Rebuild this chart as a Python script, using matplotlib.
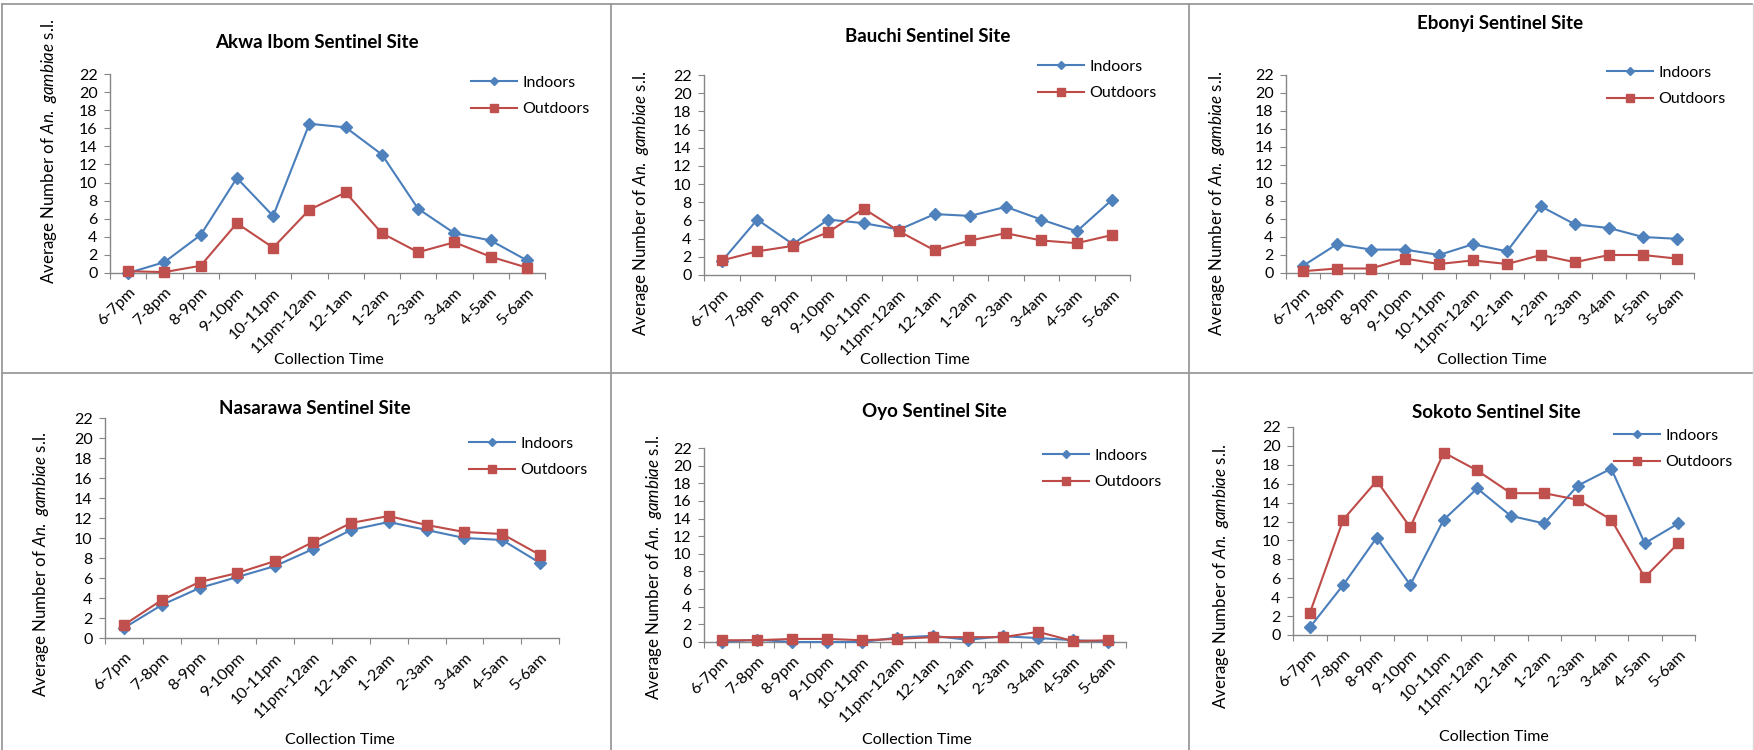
"""Hourly biting profile of An. gambiae s.l. at six sentinel sites."""
import matplotlib
matplotlib.use("Agg")
import matplotlib.pyplot as plt
import numpy as np
from matplotlib.lines import Line2D

plt.rcParams["font.family"] = ["Lato", "DejaVu Sans"]
plt.rcParams["mathtext.fontset"] = "custom"
plt.rcParams["mathtext.rm"] = "Lato"
plt.rcParams["mathtext.it"] = "Lato:italic"

times = ["6-7pm", "7-8pm", "8-9pm", "9-10pm", "10-11pm", "11pm-12am",
         "12-1am", "1-2am", "2-3am", "3-4am", "4-5am", "5-6am"]

akwa_ibom_in = [0.0, 1.2, 4.2, 10.5, 6.3, 16.5, 16.1, 13.1, 7.1, 4.4, 3.6, 1.4]
akwa_ibom_out = [0.2, 0.1, 0.8, 5.5, 2.8, 7.0, 8.9, 4.4, 2.3, 3.4, 1.8, 0.6]
bauchi_in = [1.5, 6.1, 3.4, 6.1, 5.7, 5.0, 6.7, 6.5, 7.5, 6.1, 4.8, 8.3]
bauchi_out = [1.6, 2.6, 3.2, 4.7, 7.3, 4.8, 2.7, 3.8, 4.6, 3.8, 3.5, 4.4]
ebonyi_in = [0.8, 3.2, 2.6, 2.6, 2.0, 3.2, 2.4, 7.4, 5.4, 5.0, 4.0, 3.8]
ebonyi_out = [0.2, 0.5, 0.5, 1.6, 1.0, 1.4, 1.0, 2.0, 1.2, 2.0, 2.0, 1.6]
nasarawa_in = [1.0, 3.3, 5.0, 6.1, 7.2, 8.9, 10.8, 11.6, 10.8, 10.0, 9.8, 7.5]
nasarawa_out = [1.3, 3.8, 5.6, 6.5, 7.7, 9.6, 11.5, 12.2, 11.3, 10.6, 10.4, 8.3]
oyo_in = [0.0, 0.25, 0.0, 0.0, 0.0, 0.5, 0.7, 0.25, 0.65, 0.45, 0.2, 0.05]
oyo_out = [0.2, 0.2, 0.35, 0.35, 0.2, 0.35, 0.55, 0.55, 0.55, 1.15, 0.1, 0.2]
sokoto_in = [0.8, 5.3, 10.3, 5.3, 12.2, 15.5, 12.6, 11.8, 15.8, 17.6, 9.7, 11.8]
sokoto_out = [2.3, 12.2, 16.3, 11.4, 19.3, 17.4, 15.0, 15.0, 14.3, 12.2, 6.1, 9.7]

sites = [
    ("Akwa Ibom Sentinel Site", akwa_ibom_in, akwa_ibom_out),
    ("Bauchi Sentinel Site", bauchi_in, bauchi_out),
    ("Ebonyi Sentinel Site", ebonyi_in, ebonyi_out),
    ("Nasarawa Sentinel Site", nasarawa_in, nasarawa_out),
    ("Oyo Sentinel Site", oyo_in, oyo_out),
    ("Sokoto Sentinel Site", sokoto_in, sokoto_out),
]

# pixel layout of each panel: axes box (left, right, y of 0, y of 22),
# title centre, y-label centre, x-label centre, legend anchor (x, y)
layout = [
    dict(box=(110, 545, 273, 74), title=(317, 43), ylab=(49, 151), xlab=(329, 360), leg=(471, 96)),
    dict(box=(704, 1130, 275, 75), title=(928, 36), ylab=(641, 203), xlab=(915, 360), leg=(1038, 80)),
    dict(box=(1286, 1694, 273, 75), title=(1500, 23), ylab=(1217, 203), xlab=(1492, 360), leg=(1607, 86)),
    dict(box=(105, 559, 638, 418), title=(315, 408), ylab=(41, 564), xlab=(340, 740), leg=(469, 457)),
    dict(box=(704, 1126, 642, 448), title=(934, 412), ylab=(654, 567), xlab=(917, 740), leg=(1043, 469)),
    dict(box=(1293, 1695, 635, 427), title=(1496, 413), ylab=(1221, 576), xlab=(1494, 737), leg=(1614, 449)),
]

W, H = 1754, 750
BLUE_LINE, BLUE_MARK = "#4A7EBB", "#4F81BD"
RED_LINE, RED_MARK = "#BE4B48", "#C0504D"
AXIS_GREY = "#868686"
FS = 11.5

fig = plt.figure(figsize=(W / 100, H / 100), dpi=100)
x = np.arange(len(times))


def fx(px):
    return px / W


def fy(py):
    return 1 - py / H


for (title, indoor, outdoor), lay in zip(sites, layout):
    left, right, y0, y22 = lay["box"]
    ax = fig.add_axes([fx(left), fy(y0), (right - left) / W, (y0 - y22) / H])
    ax.plot(x, indoor, color=BLUE_LINE, lw=1.5, marker="D", ms=6,
            mfc=BLUE_MARK, mec=BLUE_MARK, clip_on=False, zorder=3)
    ax.plot(x, outdoor, color=RED_LINE, lw=1.5, marker="s", ms=6.5,
            mfc=RED_MARK, mec=RED_MARK, clip_on=False, zorder=4)

    ax.set_xlim(-0.5, len(times) - 0.5)
    ax.set_ylim(0, 22)
    ax.set_yticks(range(0, 23, 2))
    ax.set_xticks(np.arange(-0.5, len(times), 1))
    ax.set_xticklabels([])
    ax.set_xticks(x, minor=True)
    ax.set_xticklabels(times, minor=True, rotation=45, ha="right",
                       rotation_mode="anchor", fontsize=FS)
    ax.tick_params(axis="x", which="minor", length=0, pad=9)
    ax.tick_params(axis="x", which="major", length=4, color=AXIS_GREY)
    ax.tick_params(axis="y", length=4, color=AXIS_GREY, labelsize=FS, pad=5)
    for side in ("top", "right"):
        ax.spines[side].set_visible(False)
    for side in ("left", "bottom"):
        ax.spines[side].set_color(AXIS_GREY)
        ax.spines[side].set_linewidth(1.0)
    ax.set_facecolor("none")

    fig.text(fx(lay["title"][0]), fy(lay["title"][1]), title, ha="center",
             va="center", fontsize=13.5, fontweight="bold")
    fig.text(fx(lay["ylab"][0]), fy(lay["ylab"][1]),
             r"Average Number of $An.\ gambiae$ s.l.", rotation=90,
             ha="center", va="center", fontsize=12.2)
    fig.text(fx(lay["xlab"][0]), fy(lay["xlab"][1]), "Collection Time",
             ha="center", va="center", fontsize=FS)

    handles = [
        Line2D([], [], color=BLUE_LINE, lw=1.5, marker="D", ms=4,
               mfc=BLUE_MARK, mec=BLUE_MARK),
        Line2D([], [], color=RED_LINE, lw=1.5, marker="s", ms=6.3,
               mfc=RED_MARK, mec=RED_MARK),
    ]
    ax.legend(handles, ["Indoors", "Outdoors"], loc="center left",
              bbox_to_anchor=(fx(lay["leg"][0]), fy(lay["leg"][1])),
              bbox_transform=fig.transFigure, frameon=False, fontsize=FS,
              borderpad=0, borderaxespad=0, handlelength=2.9,
              handletextpad=0.3, labelspacing=0.75)

# panel frame lines
frame = dict(transform=fig.transFigure, color="#9a9a9a", lw=1.3)
for xv in (611, 1189):
    fig.add_artist(Line2D([fx(xv), fx(xv)], [0, fy(4)], **frame))
fig.add_artist(Line2D([fx(2), fx(1752)], [fy(373), fy(373)], **frame))
fig.add_artist(Line2D([fx(2), fx(1752)], [fy(4), fy(4)], **frame))
fig.add_artist(Line2D([fx(2), fx(2)], [0, fy(4)], **frame))
fig.add_artist(Line2D([fx(1753), fx(1753)], [0, fy(4)], transform=fig.transFigure,
                      color="#d8d8d8", lw=1.0))

fig.savefig("out.png", dpi=100)
